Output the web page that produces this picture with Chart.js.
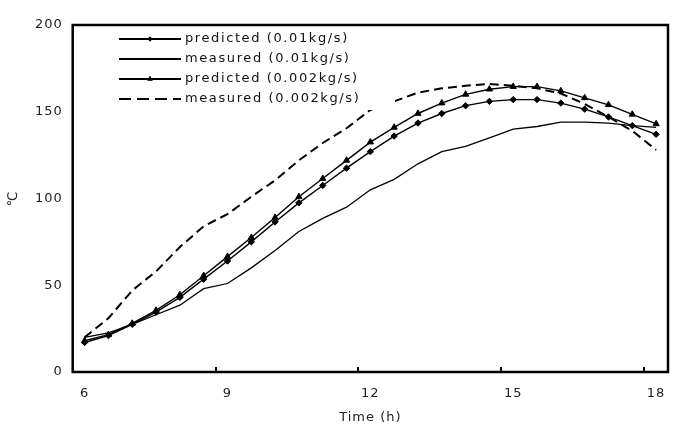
<!DOCTYPE html>
<html>
<head>
<meta charset="utf-8">
<script src="https://cdn.jsdelivr.net/npm/chart.js@4.4.1/dist/chart.umd.min.js"></script>
<style>
  html, body { margin: 0; padding: 0; background: #fff; }
  #wrap { width: 692px; height: 439px; position: relative; }
</style>
</head>
<body>
<div id="wrap"><canvas id="tempChart"></canvas></div>
<script>
// Heures de mesure (toutes les 30 min)
const hours = [6, 6.5, 7, 7.5, 8, 8.5, 9, 9.5, 10, 10.5, 11, 11.5, 12,
               12.5, 13, 13.5, 14, 14.5, 15, 15.5, 16, 16.5, 17, 17.5, 18];

// Températures (°C)
const predicted001 = [17, 21, 27.5, 34.5, 43, 53.5, 64, 75, 86.5, 97.5, 107.5, 117.5, 127,
                      136, 143.5, 149, 153.5, 156, 157, 157, 155, 151.5, 147, 142, 137];
const measured001 = [20, 22.5, 27.5, 33, 38.5, 48, 51, 60, 70, 81, 88.5, 95, 105,
                     111, 120, 127, 130, 135, 140, 141.5, 144, 144, 143.5, 142, 141];
const predicted0002 = [18, 21.5, 28, 35.5, 44.5, 55.5, 66.5, 77.5, 89, 101, 111.5, 122, 132.5,
                       141, 149, 155, 160, 163, 164.5, 164.5, 162, 158, 154, 148.5, 143];
const measured0002 = [20, 31, 47, 58, 72, 84, 91, 101, 110.5, 122, 132, 140.5, 151,
                      156, 161, 163.5, 165, 166, 165, 163.5, 160.5, 154.5, 147, 139, 128];

const xTickLabels = [6, 9, 12, 15, 18];
const xTickMarks = [8.75, 11.75, 14.75, 17.75];
const yTickLabels = [0, 50, 100, 150, 200];

const seriesLabels = ['predicted (0.01kg/s)', 'measured (0.01kg/s)',
                      'predicted (0.002kg/s)', 'measured (0.002kg/s)'];

function toPoints(values) {
    return hours.map((h, i) => ({ x: h, y: values[i] }));
}

const font = 'DejaVu Sans';

// Cadre noir + petites graduations vers l'intérieur
const framePlugin = {
    id: 'frame',
    beforeDraw(chart) {
        chart.ctx.letterSpacing = '1px';
    },
    afterDraw(chart) {
        const { ctx, chartArea: a } = chart;
        const xs = chart.scales.x;
        ctx.save();
        ctx.strokeStyle = '#000';
        ctx.lineWidth = 2.5;
        ctx.strokeRect(a.left, a.top, a.right - a.left, a.bottom - a.top);
        ctx.lineWidth = 2;
        xTickMarks.forEach(v => {
            const px = Math.round(xs.getPixelForValue(v));
            ctx.beginPath();
            ctx.moveTo(px, a.bottom);
            ctx.lineTo(px, a.bottom - 5);
            ctx.stroke();
        });
        ctx.restore();
    }
};

// Légende dans la zone du graphique, fond blanc
const legendBoxPlugin = {
    id: 'legendBox',
    afterDatasetsDraw(chart) {
        const ctx = chart.ctx;
        ctx.save();
        ctx.fillStyle = '#fff';
        ctx.fillRect(110, 28, 285, 82);
        chart.data.datasets.forEach((ds, i) => {
            const y = 39 + i * 20;
            ctx.strokeStyle = '#000';
            ctx.lineWidth = 2;
            ctx.setLineDash(ds.borderDash ? [12, 6] : []);
            ctx.beginPath();
            ctx.moveTo(119, y);
            ctx.lineTo(181, y);
            ctx.stroke();
            ctx.setLineDash([]);
            if (ds.pointRadius > 0) {
                ctx.fillStyle = '#000';
                ctx.lineWidth = 1;
                Chart.helpers.drawPoint(ctx, {
                    pointStyle: ds.pointStyle, radius: ds.pointRadius - 1,
                    rotation: 0, borderWidth: 1
                }, 150, y);
            }
            ctx.fillStyle = '#111';
            ctx.font = '13px "' + font + '"';
            ctx.letterSpacing = '1.6px';
            ctx.textBaseline = 'middle';
            ctx.textAlign = 'left';
            ctx.fillText(ds.label, 185, y);
        });
        ctx.restore();
    }
};

const ctx = document.getElementById('tempChart').getContext('2d');

new Chart(ctx, {
    type: 'line',
    data: {
        datasets: [
            {
                label: seriesLabels[0],
                data: toPoints(predicted001),
                borderColor: '#000',
                backgroundColor: '#000',
                borderWidth: 1.4,
                pointStyle: 'rectRot',
                pointRadius: 3.2,
                pointBorderWidth: 1
            },
            {
                label: seriesLabels[1],
                data: toPoints(measured001),
                borderColor: '#000',
                borderWidth: 1.3,
                pointRadius: 0
            },
            {
                label: seriesLabels[2],
                data: toPoints(predicted0002),
                borderColor: '#000',
                backgroundColor: '#000',
                borderWidth: 1.4,
                pointStyle: 'triangle',
                pointRadius: 3.6,
                pointBorderWidth: 1
            },
            {
                label: seriesLabels[3],
                data: toPoints(measured0002),
                borderColor: '#000',
                borderWidth: 2,
                borderDash: [9, 5],
                pointRadius: 0
            }
        ]
    },
    options: {
        responsive: true,
        maintainAspectRatio: false,
        animation: false,
        layout: { padding: { top: 25, right: 24, left: 0, bottom: 0 } },
        plugins: {
            legend: { display: false },
            tooltip: { enabled: false }
        },
        scales: {
            x: {
                type: 'linear',
                min: 5.75,
                max: 18.25,
                afterBuildTicks: scale => { scale.ticks = xTickLabels.map(v => ({ value: v })); },
                afterFit: scale => { scale.height = 67; },
                grid: { display: false, drawTicks: false },
                border: { display: false },
                ticks: {
                    color: '#222',
                    padding: 14,
                    maxRotation: 0,
                    font: { family: font, size: 13 }
                },
                title: {
                    display: true,
                    text: 'Time (h)',
                    color: '#222',
                    padding: { bottom: 14 },
                    font: { family: font, size: 13 }
                }
            },
            y: {
                min: 0,
                max: 200,
                afterBuildTicks: scale => { scale.ticks = yTickLabels.map(v => ({ value: v })); },
                afterFit: scale => { scale.width = 72.7; },
                grid: { display: false, drawTicks: false },
                border: { display: false },
                ticks: {
                    color: '#222',
                    padding: 10,
                    font: { family: font, size: 13 }
                },
                title: {
                    display: true,
                    text: '℃',
                    color: '#222',
                    padding: { top: 6 },
                    font: { family: font, size: 13 }
                }
            }
        }
    },
    plugins: [framePlugin, legendBoxPlugin]
});
</script>
</body>
</html>
